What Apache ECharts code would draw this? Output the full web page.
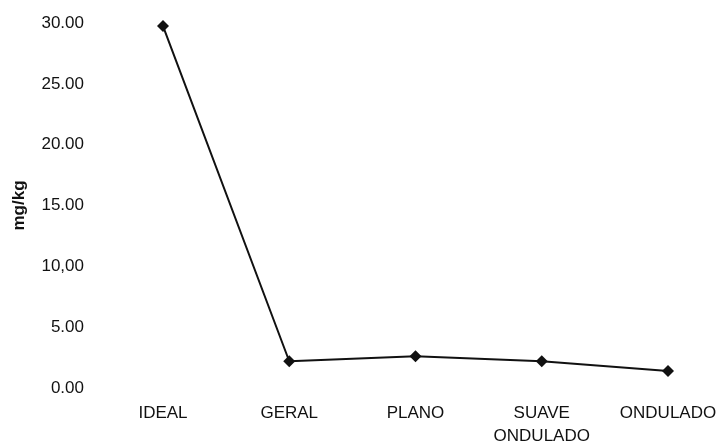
<!DOCTYPE html>
<html>
<head>
<meta charset="utf-8">
<script src="https://cdn.jsdelivr.net/npm/echarts@6/dist/echarts.min.js"></script>
<style>
  html, body { margin: 0; padding: 0; background: #fff; }
  #chart { width: 721px; height: 443px; }
</style>
</head>
<body>
<div id="chart"></div>
<script>
// data
const categories = ['IDEAL', 'GERAL', 'PLANO', 'SUAVE\nONDULADO', 'ONDULADO'];
const values = [29.75, 2.2, 2.6, 2.2, 1.4];
const yTickLabels = ['0.00', '5.00', '10,00', '15.00', '20.00', '25.00', '30.00'];

const FONT = '"Liberation Sans", Arial, sans-serif';
const INK = '#111';

const chart = echarts.init(document.getElementById('chart'), null, { renderer: 'canvas' });

chart.setOption({
  animation: false,
  backgroundColor: '#fff',
  // keep the grid fixed; the two-line label may run to the bottom edge
  grid: { left: 163, right: 53, top: 23, bottom: 55, outerBoundsMode: 'none' },
  xAxis: {
    type: 'category',
    data: categories,
    boundaryGap: false,
    axisLine: { show: false },
    axisTick: { show: false },
    splitLine: { show: false },
    axisLabel: {
      color: INK, fontFamily: FONT, fontSize: 17,
      lineHeight: 23, margin: 14, interval: 0
    }
  },
  yAxis: {
    type: 'value',
    min: 0, max: 30, interval: 5,
    name: 'mg/kg',
    nameLocation: 'middle',
    nameRotate: 90,
    nameGap: 135,
    nameTextStyle: { color: INK, fontFamily: FONT, fontSize: 17, fontWeight: 'bold' },
    axisLine: { show: false },
    axisTick: { show: false },
    splitLine: { show: false },
    axisLabel: {
      color: INK, fontFamily: FONT, fontSize: 17, margin: 79,
      formatter: v => yTickLabels[Math.round(v / 5)]
    }
  },
  series: [{
    type: 'line',
    data: values,
    symbol: 'diamond',
    symbolSize: 12,
    lineStyle: { color: INK, width: 2 },
    itemStyle: { color: INK }
  }]
});
</script>
</body>
</html>
